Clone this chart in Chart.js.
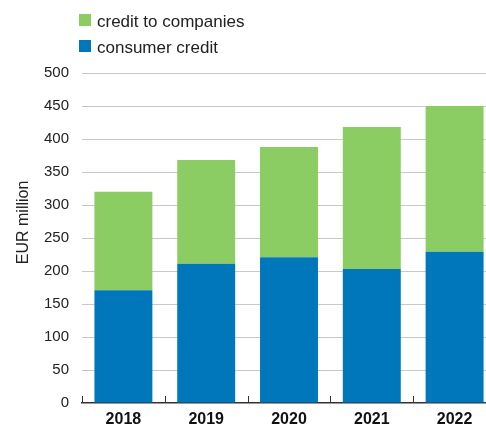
<!DOCTYPE html>
<html>
<head>
<meta charset="utf-8">
<script src="https://cdn.jsdelivr.net/npm/chart.js@4"></script>
<style>
  html, body { margin: 0; padding: 0; background: #fff; overflow: hidden; }
  #wrap { position: relative; width: 486px; height: 427px; overflow: hidden; }
  #box { position: absolute; left: 0; top: 0; width: 496px; height: 427px; }
  #legend { position: absolute; left: 79px; top: 12px; font: 17px "Liberation Sans", Arial, sans-serif; color: #222; }
  #legend div { height: 26px; line-height: 20px; white-space: nowrap; }
  #legend span { display: inline-block; width: 12px; height: 12px; margin-right: 6px; vertical-align: 1px; }
</style>
</head>
<body>
<div id="wrap">
  <div id="box"><canvas id="myChart" width="496" height="427"></canvas></div>
  <div id="legend"></div>
</div>
<script>
const years = ['2018', '2019', '2020', '2021', '2022'];
const consumerCredit = [171, 211, 221, 203, 229];
const creditToCompanies = [149, 157, 167, 215, 221];
const yTicks = [0, 50, 100, 150, 200, 250, 300, 350, 400, 450, 500];

const BLUE = '#0077bb';
const GREEN = '#8bcd63';
const FONT = '"Liberation Sans", Arial, sans-serif';

// legend: green on top, blue below
var legendItems = [
    { label: 'credit to companies', color: GREEN },
    { label: 'consumer credit', color: BLUE }
];
var legend = document.getElementById('legend');
legendItems.forEach(function(it) {
    var row = document.createElement('div');
    var sw = document.createElement('span');
    sw.style.background = it.color;
    row.appendChild(sw);
    row.appendChild(document.createTextNode(it.label));
    legend.appendChild(row);
});

// small upward ticks between the categories
const boundaryTicks = {
    id: 'boundaryTicks',
    afterDatasetsDraw(chart) {
        const x = chart.scales.x;
        const bottom = chart.chartArea.bottom;
        const half = (x.getPixelForValue(1) - x.getPixelForValue(0)) / 2;
        const ctx = chart.ctx;
        ctx.save();
        ctx.strokeStyle = '#333';
        ctx.lineWidth = 1;
        for (let i = 0; i <= years.length; i++) {
            const px = Math.round(x.getPixelForValue(i) - half) + 0.5;
            ctx.beginPath();
            ctx.moveTo(px, bottom);
            ctx.lineTo(px, bottom - 7);
            ctx.stroke();
        }
        ctx.restore();
    }
};

const data = {
    labels: years,
    datasets: [{
        label: 'consumer credit',
        data: consumerCredit,
        backgroundColor: BLUE,
        barPercentage: 0.7,
        categoryPercentage: 1
    }, {
        label: 'credit to companies',
        data: creditToCompanies,
        backgroundColor: GREEN,
        barPercentage: 0.7,
        categoryPercentage: 1
    }]
};

const config = {
    type: 'bar',
    data: data,
    options: {
        responsive: false,
        animation: false,
        layout: {
            padding: { left: 10, right: 0, top: 73, bottom: 0 }
        },
        plugins: {
            legend: { display: false },
            tooltip: { enabled: false }
        },
        scales: {
            x: {
                stacked: true,
                afterFit: function(axis) { axis.height = 24; },
                grid: { display: false, drawTicks: false },
                border: { display: true, color: '#333', width: 1.5 },
                ticks: {
                    color: '#111',
                    padding: 8,
                    font: { family: FONT, size: 16, weight: 'bold', lineHeight: 1.05 }
                }
            },
            y: {
                stacked: true,
                min: 0,
                max: 500,
                afterFit: function(axis) { axis.width = 72; },
                afterBuildTicks: function(axis) {
                    axis.ticks = yTicks.map(function(v) { return { value: v }; });
                },
                grid: {
                    color: function(ctx) { return ctx.tick && ctx.tick.value === 0 ? 'rgba(0,0,0,0)' : '#c8c8c8'; },
                    drawTicks: false
                },
                border: { display: false },
                ticks: {
                    color: '#222',
                    padding: 13,
                    font: { family: FONT, size: 15 }
                },
                title: {
                    display: true,
                    text: '       EUR million',
                    color: '#222',
                    padding: { top: 4, bottom: 4 },
                    font: { family: FONT, size: 16 }
                }
            }
        }
    },
    plugins: [boundaryTicks]
};

var myChart = new Chart(document.getElementById('myChart'), config);
</script>
</body>
</html>
